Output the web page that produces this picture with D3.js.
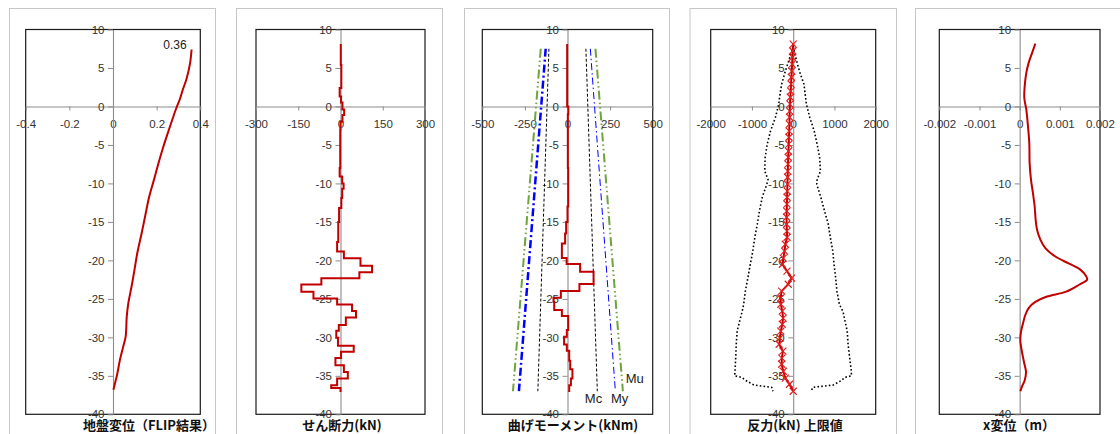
<!DOCTYPE html>
<html><head><meta charset="utf-8">
<script src="https://cdn.jsdelivr.net/npm/d3@7"></script>
<style>body{margin:0;background:#fff}svg{display:block}</style>
</head><body>
<svg id="c" width="1120" height="434"></svg>
<script>
// ---------- DATA ----------
const depthTicks = [10,5,0,-5,-10,-15,-20,-25,-30,-35,-40];

// Panel 1: ground displacement (FLIP)
const groundDepth = [7.4,5.6,3.6,2.1,1.0,-0.3,-1.6,-3.3,-5.2,-7.4,-9.8,-11.7,-14.3,-16.5,-19.1,-21.3,-23.4,-25.6,-27.3,-29.9,-31.2,-32.9,-34.7,-36.0,-36.8];
const groundDisp  = [0.360,0.353,0.337,0.319,0.307,0.289,0.273,0.253,0.231,0.208,0.185,0.166,0.147,0.131,0.111,0.098,0.085,0.070,0.063,0.058,0.047,0.032,0.020,0.009,0.002];
const groundTicks = [-0.4,-0.2,0,0.2,0.4];
const groundMaxLabel = "0.36";

// Panel 2: shear force (step)
const shearBreaks = [8.1,5.4,2.4,1.3,0.5,-0.4,-1.1,-2.0,-3.0,-8.0,-9.1,-10.0,-10.7,-11.9,-13.2,-15.0,-17.6,-18.86,-19.73,-20.69,-21.55,-22.33,-23.12,-24.07,-24.94,-25.72,-26.59,-27.41,-28.41,-29.15,-30.06,-31.10,-31.88,-32.67,-33.62,-34.49,-35.36,-36.22,-36.57,-37.09];
const shearVals   = [1,3,-3,2,7,13,7,0,-1,-3,6,11,6,3,-5,-8,-12,12,71,112,67,-68,-139,-96,-12,41,55,19,-6,-15,-9,47,2,-18,12,26,-12,-33,0];
const shearTicks  = [-300,-150,0,150,300];

// Panel 3: bending moment (step) + limits
const momentBreaks = [8.1,0,-1,-8,-13,-15,-16.5,-17.8,-19.7,-20.47,-21.47,-23.07,-23.98,-24.85,-25.37,-26.46,-27.24,-29.06,-29.93,-30.93,-31.75,-33.05,-34.14,-35.36,-36.22,-37.1];
const momentVals   = [-2,5,2,4,0,-8,-14,-33,-5,74,153,70,-39,-82,-78,-33,4,-4,-20,-4,10,16,29,20,10];
const limitDepth = [7.5,-37.0];
const mcPos = [108,175],  mcNeg = [-109,-174];
const myPos = [134,281],  myNeg = [-128,-285];
const muPos = [164,325],  muNeg = [-157,-320];
const momentTicks = [-500,-250,0,250,500];

// Panel 4: subgrade reaction + upper limit
const resDepth = [8.1,7.2,6.4,5.5,4.6,3.8,2.9,2.0,1.2,0.3,-0.6,-1.4,-2.3,-3.2,-4.0,-4.9,-5.8,-6.6,-7.5,-8.4,-9.2,-10.1,-11.0,-11.8,-12.7,-13.6,-14.4,-15.3,-16.2,-17.0,-17.9,-18.8,-19.7,-20.5,-21.4,-22.3,-23.1,-24.0,-24.9,-25.7,-26.6,-27.5,-28.3,-29.2,-30.1,-30.9,-31.8,-32.7,-33.5,-34.4,-35.3,-36.1,-37.0];
const resVals  = [0,-10,-18,-27,-36,-44,-52,-60,-70,-78,-85,-88,-92,-98,-103,-108,-115,-121,-126,-131,-135,-140,-144,-148,-152,-156,-160,-160,-152,-148,-190,-210,-240,-262,-150,-40,-120,-280,-305,-300,-265,-245,-265,-300,-320,-340,-250,-275,-280,-240,-190,-90,0];
const envDepth = [7.8,6.4,4.6,2.9,1.2,0.3,-1.4,-3.2,-4.9,-6.6,-8.4,-9.5,-10.1,-11.8,-13.6,-15.3,-17.0,-18.8,-20.5,-22.3,-24.0,-25.7,-26.7,-27.5,-29.2,-30.9,-32.7,-34.4,-35.0,-35.2,-35.6,-36.2,-36.5,-37.0];
const envUpper = [0,60,150,260,300,320,400,510,580,640,660,580,570,670,760,850,900,960,990,1030,1060,1120,1210,1240,1310,1330,1370,1410,1410,1250,1170,970,470,440];
const envLower = [0,-80,-190,-280,-330,-350,-430,-550,-630,-680,-690,-610,-640,-750,-820,-870,-930,-980,-1040,-1100,-1160,-1200,-1240,-1280,-1360,-1380,-1395,-1410,-1420,-1250,-1150,-950,-520,-490];
const resTicks = [-2000,-1000,0,1000,2000];

// Panel 5: x displacement
const xDepth = [8.17,6.96,5.66,4.36,2.62,1.1,-0.42,-2.6,-4.76,-7.4,-9.5,-11.3,-13.0,-14.7,-16.0,-17.3,-18.4,-19.5,-20.4,-21.2,-22.1,-22.5,-23.2,-24.1,-24.7,-25.4,-26.2,-27.1,-28.2,-29.3,-30.4,-31.9,-33.4,-34.5,-35.6,-36.4,-37.0];
const xDisp  = [0.00039,0.00031,0.000224,0.000166,0.000125,0.000116,0.000166,0.000208,0.00024,0.000249,0.000282,0.000332,0.000374,0.000398,0.000432,0.000515,0.00064,0.00089,0.00122,0.00151,0.00166,0.00168,0.00147,0.00114,0.00068,0.00039,0.000224,0.00014,0.000083,0.000033,0.000017,0.000058,0.000116,0.000158,0.000125,0.000058,0.000017];
const xTicks5 = [-0.002,-0.001,0,0.001,0.002];

const titles = ["地盤変位（FLIP結果）","せん断力(kN)","曲げモーメント(kNm)","反力(kN) 上限値","x変位（m）"];

// ---------- LAYOUT ----------
const svg = d3.select('#c');
const RED = '#c00000';
const yTop = 29.5, yBot = 414.3;
const tickFont = '"Liberation Sans", Arial, sans-serif';
const cjkFont = '"Noto Sans CJK JP", "Noto Sans", sans-serif';

function panel(frame, plot, ticks, title, titleX){
  const g = svg.append('g');
  g.append('rect').attr('x',frame[0]+0.5).attr('y',8.5).attr('width',frame[1]-frame[0]).attr('height',460)
    .attr('fill','#fff').attr('stroke','#c6c6c6').attr('stroke-width',1);
  const x = d3.scaleLinear().domain([ticks[0],ticks[ticks.length-1]]).range(plot);
  const y = d3.scaleLinear().domain([-40,10]).range([yBot,yTop]);
  g.append('rect').attr('x',plot[0]).attr('y',yTop).attr('width',plot[1]-plot[0]).attr('height',yBot-yTop)
    .attr('fill','none').attr('stroke','#1a1a1a').attr('stroke-width',1.2);
  const xa = g.append('g').attr('transform',`translate(0,${y(0)})`)
    .call(d3.axisBottom(x).tickValues(ticks).tickSizeInner(4).tickSizeOuter(0).tickPadding(9).tickFormat(d=>String(d)));
  const ya = g.append('g').attr('transform',`translate(${x(0)},0)`)
    .call(d3.axisLeft(y).tickValues(depthTicks).tickSizeInner(5).tickSizeOuter(0).tickPadding(3.5).tickFormat(d=>String(d)));
  [xa,ya].forEach(a=>{
    a.select('.domain').attr('stroke','#8c8c8c').attr('stroke-width',1.1);
    a.selectAll('.tick line').attr('stroke','#8c8c8c');
    a.selectAll('.tick text').attr('fill','#333').style('font-family',tickFont).style('font-size','11.5px');
  });
  g.append('text').attr('x',titleX).attr('y',430).attr('text-anchor','middle')
    .style('font-family',cjkFont).style('font-weight','bold').style('font-size','13px').attr('fill','#111').text(title);
  return {g,x,y};
}

function stepPoints(breaks, vals){
  const pts=[];
  vals.forEach((v,i)=>{pts.push([v,breaks[i]]);pts.push([v,breaks[i+1]]);});
  return pts;
}

// Panel 1
{
  const {g,x,y} = panel([9,215],[25.7,200.3],groundTicks,titles[0],149);
  const line = d3.line().x(d=>x(d[0])).y(d=>y(d[1])).curve(d3.curveCatmullRom);
  g.append('path').datum(groundDisp.map((v,i)=>[v,groundDepth[i]])).attr('d',line)
    .attr('fill','none').attr('stroke',RED).attr('stroke-width',2);
  g.append('text').attr('x',x(groundDisp[0])-5).attr('y',y(groundDepth[0])-1).attr('text-anchor','end')
    .style('font-family',tickFont).style('font-size','12px').attr('fill','#222').text(groundMaxLabel);
}
// Panel 2
{
  const {g,x,y} = panel([236,442],[256,425],shearTicks,titles[1],342);
  const line = d3.line().x(d=>x(d[0])).y(d=>y(d[1]));
  g.append('path').datum(stepPoints(shearBreaks,shearVals)).attr('d',line)
    .attr('fill','none').attr('stroke',RED).attr('stroke-width',2);
}
// Panel 3
{
  const {g,x,y} = panel([464,669],[482.3,652.7],momentTicks,titles[2],573);
  const line = d3.line().x(d=>x(d[0])).y(d=>y(d[1]));
  const lim = arr => arr.map((v,i)=>[v,limitDepth[i]]);
  const draw=(arr,color,w,dash)=>g.append('path').datum(lim(arr)).attr('d',line).attr('fill','none')
      .attr('stroke',color).attr('stroke-width',w).attr('stroke-dasharray',dash);
  draw(muNeg,'#6ea43c',2,'9,3,1.5,3,1.5,3');
  draw(muPos,'#6ea43c',2,'9,3,1.5,3,1.5,3');
  draw(myNeg,'#0000ff',2.5,'8,3,2,3');
  draw(myPos,'#0000ff',1,'7,3,1.5,3');
  draw(mcNeg,'#000',1,'3,2');
  draw(mcPos,'#000',1,'3,2');
  g.append('path').datum(stepPoints(momentBreaks,momentVals)).attr('d',line)
    .attr('fill','none').attr('stroke',RED).attr('stroke-width',2);
  const lab=(t,xx,yy)=>g.append('text').attr('x',xx).attr('y',yy).attr('text-anchor','middle')
    .style('font-family',tickFont).style('font-size','13px').attr('fill','#222').text(t);
  lab('Mc',593.5,403); lab('My',619.7,403); lab('Mu',634.7,383);
}
// Panel 4
{
  const {g,x,y} = panel([689.5,896],[710.7,875.7],resTicks,titles[3],795);
  const line = d3.line().x(d=>x(d[0])).y(d=>y(d[1]));
  g.append('path').datum(envUpper.map((v,i)=>[v,envDepth[i]])).attr('d',line)
    .attr('fill','none').attr('stroke','#000').attr('stroke-width',1.6).attr('stroke-dasharray','1.6,2.2');
  g.append('path').datum(envLower.map((v,i)=>[v,envDepth[i]])).attr('d',line)
    .attr('fill','none').attr('stroke','#000').attr('stroke-width',1.6).attr('stroke-dasharray','1.6,2.2');
  const pts = resVals.map((v,i)=>[v,resDepth[i]]);
  g.append('path').datum(pts).attr('d',line).attr('fill','none').attr('stroke',RED).attr('stroke-width',2);
  g.selectAll('path.mk').data(pts).enter().append('path').attr('class','mk')
    .attr('transform',d=>`translate(${x(d[0])},${y(d[1])})`)
    .attr('d','M-3.5,-3.5L3.5,3.5M-3.5,3.5L3.5,-3.5').attr('stroke','#e02020').attr('stroke-width',1.2).attr('fill','none');
}
// Panel 5
{
  const {g,x,y} = panel([915,1135],[939.3,1100],xTicks5,titles[4],1019);
  const line = d3.line().x(d=>x(d[0])).y(d=>y(d[1])).curve(d3.curveCatmullRom);
  g.append('path').datum(xDisp.map((v,i)=>[v,xDepth[i]])).attr('d',line)
    .attr('fill','none').attr('stroke',RED).attr('stroke-width',2);
}
</script>
</body></html>
